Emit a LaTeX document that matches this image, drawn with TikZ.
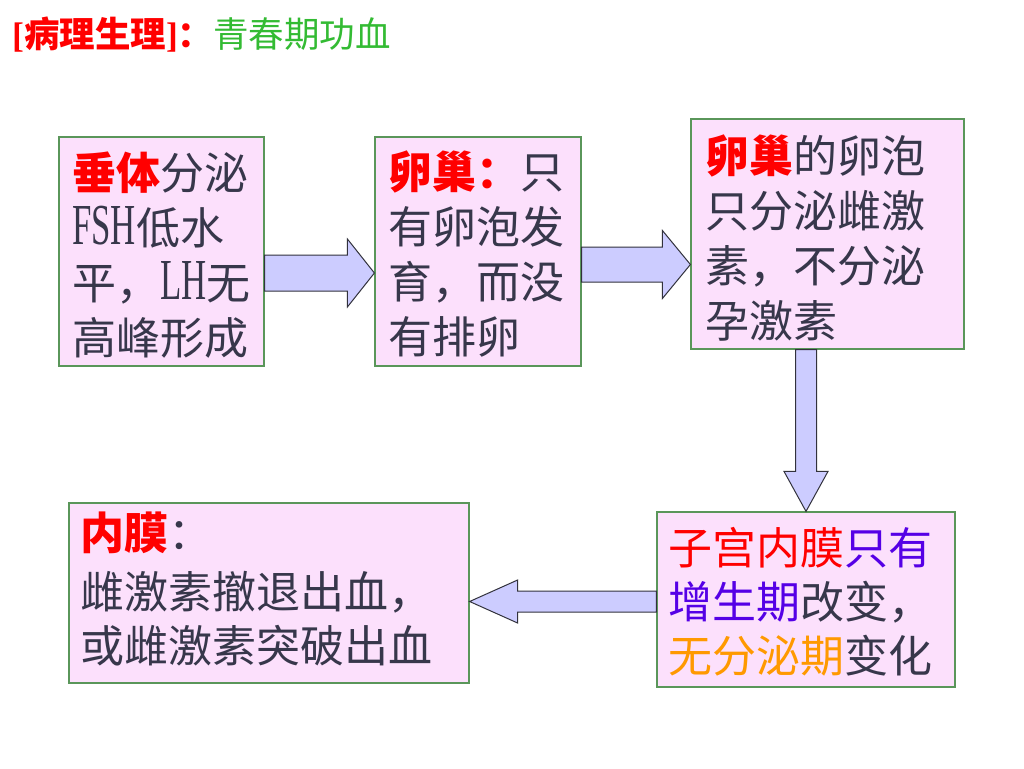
\documentclass[tikz,border=0pt]{standalone}
\usepackage{fontspec}
\setmainfont{Noto Sans CJK SC}
\newfontfamily\lat[FakeStretch=0.6]{Liberation Serif}
\newfontfamily\latn{Liberation Serif}
\newcommand\latsm{\lat\fontsize{58}{55}\selectfont}
\usetikzlibrary{calc}
\definecolor{boxfill}{RGB}{252,224,252}
\definecolor{boxline}{RGB}{90,150,90}
\definecolor{arrfill}{RGB}{204,204,255}
\definecolor{arrline}{RGB}{50,50,60}
\definecolor{txtc}{RGB}{55,55,75}
\definecolor{tred}{RGB}{255,0,0}
\definecolor{tgreen}{RGB}{51,187,51}
\definecolor{tblue}{RGB}{85,0,230}
\definecolor{torange}{RGB}{255,153,0}
\tikzset{
  box/.style={rectangle, draw=boxline, fill=boxfill, line width=1.2pt, inner sep=0pt},
  txt/.style={anchor=north west, inner sep=0pt, align=left, text=txtc, font=\fontsize{44}{55}\selectfont},
  bigarr/.style={draw=arrline, fill=arrfill, line width=1pt, line join=miter}
}
\begin{document}
\begin{tikzpicture}[x=1pt,y=-1pt]
\fill[white] (0,0) rectangle (1024,768);
\useasboundingbox (0,0) rectangle (1024,768);

% title
\node[anchor=base west, inner sep=0pt] (title) at (12,47.5)
  {\fontsize{35.5}{40}\selectfont\color{tred}{\latn\bfseries[}{\bfseries 病理生理}{\latn\bfseries]}{\bfseries ：}\color{tgreen}青春期功血};

% boxes
\node[box, minimum width=205pt, minimum height=229pt] (b1) at (161.5,251.5) {};
\node[box, minimum width=206pt, minimum height=229pt] (b2) at (478,251.5) {};
\node[box, minimum width=273pt, minimum height=230pt] (b3) at (827.5,234) {};
\node[box, minimum width=298pt, minimum height=175pt] (b4) at (806,599.5) {};
\node[box, minimum width=400pt, minimum height=180pt] (b5) at (269,593) {};

% texts
\node[txt] (t1) at (72,152) {{\bfseries\color{tred}垂体}分泌\\{\latsm FSH}低水\\平，{\latsm LH}无\\高峰形成};
\node[txt] (t2) at (388,151) {{\bfseries\color{tred}卵巢：}只\\有卵泡发\\育，而没\\有排卵};
\node[txt] (t3) at (705,135) {{\bfseries\color{tred}卵巢}的卵泡\\只分泌雌激\\素，不分泌\\孕激素};
\node[txt, font=\fontsize{44}{54}\selectfont] (t4) at (668,527) {{\color{tred}子宫内膜}{\color{tblue}只有}\\{\color{tblue}增生期}改变，\\{\color{torange}无分泌期}变化};
\node[txt, font=\fontsize{44}{54}\selectfont] (t5) at (80,512) {{\bfseries\color{tred}内膜}：\\[5pt]雌激素撤退出血，\\或雌激素突破出血};

% helper coordinates for arrow axes
\coordinate (y1) at (0,273);
\coordinate (y2) at (0,264.5);
\coordinate (x3) at (806,0);
\coordinate (y4) at (0,601.5);

\coordinate (a1s) at (b1.east |- y1);
\coordinate (a1e) at (b2.west |- y1);
\coordinate (a2s) at (b2.east |- y2);
\coordinate (a2e) at (b3.west |- y2);
\coordinate (a3s) at (b3.south -| x3);
\coordinate (a3e) at (b4.north -| x3);
\coordinate (a4s) at (b4.west |- y4);
\coordinate (a4e) at (b5.east |- y4);

% arrow 1 (right)
\draw[bigarr] ($(a1s)+(0,-18)$) -- ($(a1e)+(-27,-18)$) -- ($(a1e)+(-27,-34)$) -- (a1e)
  -- ($(a1e)+(-27,34)$) -- ($(a1e)+(-27,18)$) -- ($(a1s)+(0,18)$) -- cycle;
% arrow 2 (right)
\draw[bigarr] ($(a2s)+(0,-17.5)$) -- ($(a2e)+(-28,-17.5)$) -- ($(a2e)+(-28,-34)$) -- (a2e)
  -- ($(a2e)+(-28,34)$) -- ($(a2e)+(-28,17.5)$) -- ($(a2s)+(0,17.5)$) -- cycle;
% arrow 3 (down)
\draw[bigarr] ($(a3s)+(-10.5,0)$) -- ($(a3e)+(-10.5,-40)$) -- ($(a3e)+(-22,-40)$) -- (a3e)
  -- ($(a3e)+(22,-40)$) -- ($(a3e)+(10.5,-40)$) -- ($(a3s)+(10.5,0)$) -- cycle;
% arrow 4 (left)
\draw[bigarr] ($(a4s)+(0,-10.5)$) -- ($(a4e)+(48,-10.5)$) -- ($(a4e)+(48,-21.5)$) -- (a4e)
  -- ($(a4e)+(48,21.5)$) -- ($(a4e)+(48,10.5)$) -- ($(a4s)+(0,10.5)$) -- cycle;
\end{tikzpicture}
\end{document}
